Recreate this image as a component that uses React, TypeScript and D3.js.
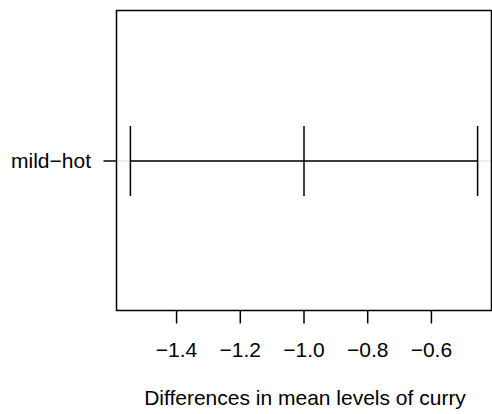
import React from "react";
import * as d3 from "d3";

const comparisons = ["mild\u2212hot"];
const diffs = [-1.0];
const lowers = [-1.545];
const uppers = [-0.455];
const xTicks = [-1.4, -1.2, -1.0, -0.8, -0.6];
const xTitle = "Differences in mean levels of curry";

const W = 492, H = 414;
const left = 116.5, right = 491.5, top = 10.5, bottom = 310.5;

export default function App() {
  const lo = d3.min(lowers)!, hi = d3.max(uppers)!;
  const ext = (hi - lo) * 0.04;
  const x = d3.scaleLinear().domain([lo - ext, hi + ext]).range([left, right]);
  const n = comparisons.length;
  const y = d3.scaleLinear().domain([0.5 - 0.04 * n, n + 0.5 + 0.04 * n]).range([bottom, top]);
  const fmt = (v: number) => (v < 0 ? "\u2212" : "") + Math.abs(v).toFixed(1);
  const font = "'Liberation Sans', Arial, Helvetica, sans-serif";
  const fs = 21;
  return (
    <svg width={W} height={H} style={{ position: "absolute", left: 0, top: 0 }}>
      <rect width={W} height={H} fill="white" />
      {comparisons.map((c, i) => {
        const yy = Math.round(y(n - i));
        return (
          <g key={c}>
            <line x1={left} x2={W} y1={yy} y2={yy} stroke="#d3d3d3" strokeWidth={0.75} />
            <line x1={x(lowers[i])} x2={x(uppers[i])} y1={yy} y2={yy} stroke="black" strokeWidth={1.5} />
            {[lowers[i], diffs[i], uppers[i]].map((v, k) => (
              <line key={k} x1={x(v)} x2={x(v)} y1={yy - 35} y2={yy + 35} stroke="black" strokeWidth={1.5} />
            ))}
            <line x1={left - 13} x2={left} y1={yy} y2={yy} stroke="black" strokeWidth={1.5} />
            <text x={91} y={yy} dy="0.35em" textAnchor="end" fontFamily={font} fontSize={fs}>{c}</text>
          </g>
        );
      })}
      <rect x={left} y={top} width={right - left} height={bottom - top} fill="none" stroke="black" strokeWidth={1.5} />
      {xTicks.map((t) => {
        const xx = x(t);
        return (
          <g key={t}>
            <line x1={xx} x2={xx} y1={bottom} y2={bottom + 13} stroke="black" strokeWidth={1.5} />
            <text x={xx} y={357} textAnchor="middle" fontFamily={font} fontSize={fs}>{fmt(t)}</text>
          </g>
        );
      })}
      <text x={(left + right) / 2 + 1} y={405} textAnchor="middle" fontFamily={font} fontSize={fs}>{xTitle}</text>
    </svg>
  );
}
